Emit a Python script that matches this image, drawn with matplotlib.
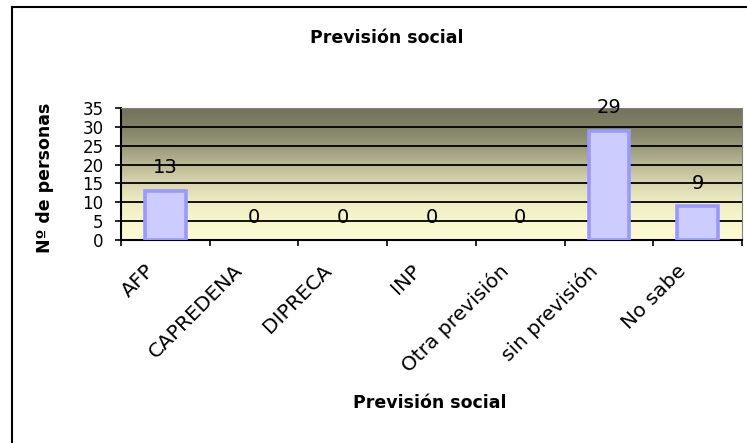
import numpy as np
import matplotlib
matplotlib.use("Agg")
from matplotlib import pyplot as plt
from matplotlib.colors import LinearSegmentedColormap
from matplotlib.lines import Line2D

plt.rcParams['font.family'] = ['DejaVu Sans']

# data
categories = ["AFP", "CAPREDENA", "DIPRECA", "INP", "Otra previsión", "sin previsión", "No sabe"]
personas = [13, 0, 0, 0, 0, 29, 9]
yticks = [0, 5, 10, 15, 20, 25, 30, 35]

W, H = 747, 443
fig = plt.figure(figsize=(W / 100, H / 100), dpi=100)

# outer chart frame (only top and left edges visible)
fig.add_artist(Line2D([12 / W, 1.0], [1 - 7 / H, 1 - 7 / H], color="black", lw=1.5, transform=fig.transFigure))
fig.add_artist(Line2D([12 / W, 12 / W], [1 - 7 / H, 0.0], color="black", lw=1.5, transform=fig.transFigure))

ax = fig.add_axes([121 / W, 1 - 240 / H, (742 - 121) / W, (240 - 108) / H])

# background gradient of the plot area
cmap = LinearSegmentedColormap.from_list(
    "bg", [(0.0, "#fefcd4"), (0.14, "#f8f6cc"), (0.29, "#eeecc2"), (0.43, "#d8d6b0"),
           (0.57, "#b8b794"), (0.71, "#98987a"), (0.86, "#808066"), (1.0, "#727258")])
grad = np.linspace(0, 1, 256).reshape(-1, 1)
ax.imshow(grad, cmap=cmap, origin="lower", aspect="auto",
          extent=[-0.5, len(categories) - 0.5, 0, 35], zorder=0)

x = np.arange(len(categories))
edges = ["#9999ff" if v > 0 else "none" for v in personas]
ax.bar(x, personas, width=0.46, color="#ccccff", edgecolor=edges, linewidth=2.6, zorder=3)

for xi, v in zip(x, personas):
    ax.annotate(str(v), (xi, v), xytext=(0, 23), textcoords="offset pixels",
                ha="center", va="center", fontsize=14, zorder=4)

ax.set_xlim(-0.5, len(categories) - 0.5)
ax.set_ylim(0, 35)
ax.set_yticks(yticks)
ax.tick_params(axis="y", labelsize=12, length=4.5, width=1.2, pad=8, direction="out")
for yv in yticks[1:-1]:
    ax.axhline(yv, color="black", lw=1.3, zorder=1)

ax.set_xticks(np.arange(len(categories) + 1) - 0.5)
ax.set_xticklabels([])
ax.tick_params(axis="x", length=4.5, width=1.2, direction="out")
for xi, cat in zip(x, categories):
    ax.annotate(cat, (xi, 0), xytext=(-21, -21), textcoords="offset pixels",
                rotation=45, ha="right", va="top", rotation_mode="anchor",
                fontsize=14.5, annotation_clip=False)

ax.spines["left"].set_linewidth(1.5)
ax.spines["bottom"].set_linewidth(1.5)
ax.spines["top"].set_color("#808080")
ax.spines["right"].set_color("#808080")

ax.set_ylabel("Nº de personas", fontsize=12.5, fontweight="bold")
ax.yaxis.set_label_coords(-0.108, 0.47)

fig.text(387 / W, 1 - 38 / H, "Previsión social", ha="center", va="center", fontsize=12.5, fontweight="bold")
fig.text(430 / W, 1 - 403 / H, "Previsión social", ha="center", va="center", fontsize=12.5, fontweight="bold")

fig.savefig("out.png", dpi=100)
